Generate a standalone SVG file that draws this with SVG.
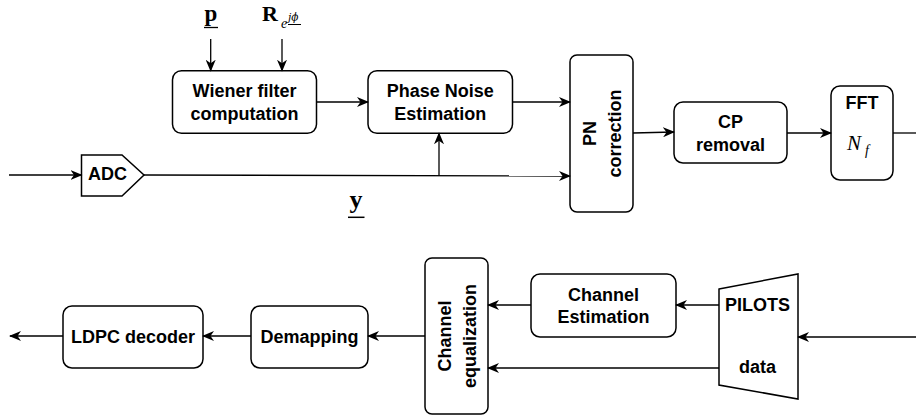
<svg xmlns="http://www.w3.org/2000/svg" width="916" height="418" viewBox="0 0 916 418">
  <style>
    .box { fill: #ffffff; stroke: #000000; stroke-width: 1.5; }
    .lbl { font-family: "Liberation Sans", Arial, Helvetica, sans-serif; font-weight: bold; font-size: 18px; fill: #000; text-anchor: middle; }
    .math { font-family: "Liberation Serif", "Times New Roman", serif; fill: #000; }
    .wire { fill: none; stroke: #000; stroke-width: 1.3; }
    .arr { marker-end: url(#head); }
  </style>
  <defs>
    <marker id="head" viewBox="0 0 12 10" refX="11" refY="5" markerWidth="12" markerHeight="10" markerUnits="userSpaceOnUse" orient="auto">
      <path d="M0,0 L12,5 L0,10 L3.5,5 Z" fill="#000"/>
    </marker>
  </defs>
  <rect width="916" height="418" fill="#ffffff"/>

  <!-- input parameters of the Wiener filter -->
  <g id="param-p">
    <text class="math" x="211" y="21" font-size="23" font-weight="bold" text-anchor="middle">p</text>
    <line x1="204" y1="27.5" x2="218" y2="27.5" stroke="#000" stroke-width="1.3"/>
  </g>
  <g id="param-R">
    <text class="math" x="262" y="20.5" font-size="22" font-weight="bold">R</text>
    <text class="math" x="281" y="27.5" font-size="14" font-style="italic">e</text>
    <text x="288" y="21" font-size="10.5" font-style="italic" font-family="'DejaVu Serif', 'Liberation Serif', serif" fill="#000">jϕ</text>
    <line x1="288" y1="24.5" x2="301" y2="24.5" stroke="#000" stroke-width="1"/>
  </g>

  <g id="wiener">
    <rect class="box" x="172.5" y="70.7" width="144" height="62.6" rx="9"/>
    <text class="lbl" x="244.5" y="97">Wiener filter</text>
    <text class="lbl" x="244.5" y="120">computation</text>
  </g>

  <g id="pn-estimation">
    <rect class="box" x="368" y="70.7" width="144.5" height="62.6" rx="9"/>
    <text class="lbl" x="440.2" y="97">Phase Noise</text>
    <text class="lbl" x="440.2" y="120">Estimation</text>
  </g>

  <g id="adc">
    <polygon class="box" points="81.5,155 122,155 144,175 122,196 81.5,196"/>
    <text class="lbl" x="107.5" y="179.5" font-size="13">ADC</text>
  </g>

  <g id="sig-y">
    <text class="math" x="356" y="208" font-size="26" font-weight="bold" text-anchor="middle">y</text>
    <line x1="348" y1="217.3" x2="364.5" y2="217.3" stroke="#000" stroke-width="1.5"/>
  </g>

  <g id="pn-correction">
    <rect class="box" x="570" y="55" width="63" height="157" rx="7"/>
    <text class="lbl" transform="translate(601.5,133.5) rotate(-90)" x="0" y="-6">PN</text>
    <text class="lbl" transform="translate(601.5,133.5) rotate(-90)" x="0" y="19">correction</text>
  </g>

  <g id="cp-removal">
    <rect class="box" x="674" y="102" width="113" height="61" rx="9"/>
    <text class="lbl" x="730.5" y="128">CP</text>
    <text class="lbl" x="730.5" y="151">removal</text>
  </g>

  <g id="fft">
    <rect class="box" x="831" y="86" width="62" height="94" rx="9"/>
    <text class="lbl" x="862" y="109">FFT</text>
    <text class="math" x="847" y="150" font-size="21" font-style="italic">N</text>
    <text class="math" x="865" y="155" font-size="14" font-style="italic">f</text>
  </g>

  <g id="demux">
    <polygon class="box" points="719,289 798,274 798,399 719,385"/>
    <text class="lbl" x="757.5" y="311" font-size="15">PILOTS</text>
    <text class="lbl" x="757.5" y="373">data</text>
  </g>

  <g id="channel-estimation">
    <rect class="box" x="531" y="274" width="145" height="63" rx="9"/>
    <text class="lbl" x="603.5" y="301">Channel</text>
    <text class="lbl" x="603.5" y="323">Estimation</text>
  </g>

  <g id="channel-equalization">
    <rect class="box" x="425" y="258" width="63" height="156" rx="7"/>
    <text class="lbl" transform="translate(456.5,336) rotate(-90)" x="0" y="-6">Channel</text>
    <text class="lbl" transform="translate(456.5,336) rotate(-90)" x="0" y="19">equalization</text>
  </g>

  <g id="demapping">
    <rect class="box" x="251" y="306" width="117" height="62" rx="9"/>
    <text class="lbl" x="309.5" y="343">Demapping</text>
  </g>

  <g id="ldpc-decoder">
    <rect class="box" x="63" y="306" width="140" height="62" rx="9"/>
    <text class="lbl" x="133" y="343">LDPC decoder</text>
  </g>

  <g id="connectors">
    <line class="wire arr" x1="210.7" y1="39" x2="210.7" y2="70.7"/>
    <line class="wire arr" x1="282" y1="39" x2="282" y2="70.7"/>
    <line class="wire arr" x1="316.5" y1="102" x2="368" y2="102"/>
    <line class="wire arr" x1="512.5" y1="102" x2="570" y2="102"/>
    <line class="wire arr" x1="9" y1="175" x2="81.5" y2="175"/>
    <line class="wire arr" x1="144" y1="175" x2="570" y2="176"/>
    <line class="wire arr" x1="439" y1="175.5" x2="439" y2="133.3"/>
    <line class="wire arr" x1="633" y1="133" x2="674" y2="132"/>
    <line class="wire arr" x1="787" y1="133" x2="831" y2="133"/>
    <line class="wire" x1="893" y1="133" x2="916" y2="133"/>
    <line class="wire arr" x1="916" y1="337" x2="798" y2="337"/>
    <line class="wire arr" x1="719" y1="305" x2="676" y2="305"/>
    <line class="wire arr" x1="531" y1="305" x2="488" y2="305"/>
    <line class="wire arr" x1="719" y1="368" x2="488" y2="368"/>
    <line class="wire arr" x1="425" y1="336" x2="368" y2="336"/>
    <line class="wire arr" x1="251" y1="336" x2="203" y2="336"/>
    <line class="wire arr" x1="63" y1="336" x2="10" y2="336"/>
  </g>
</svg>
